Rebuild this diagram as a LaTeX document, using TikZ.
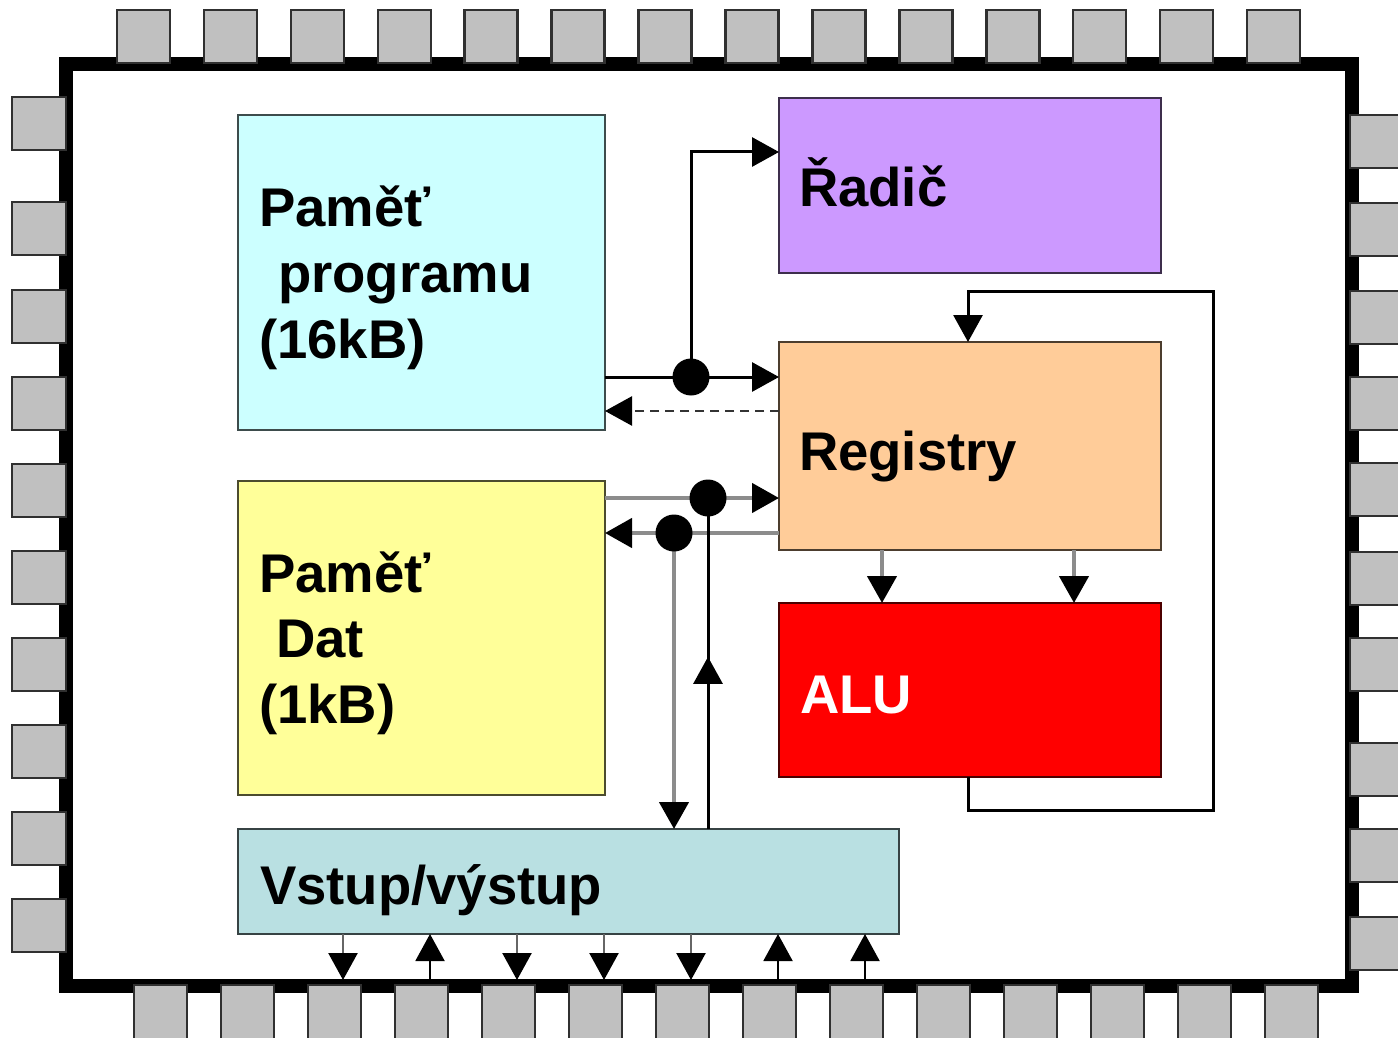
\documentclass[tikz,border=0pt]{standalone}
\usepackage{fontspec}
\setmainfont{Liberation Sans}
\usetikzlibrary{arrows.meta,decorations.markings}
\definecolor{progc}{HTML}{CCFFFF}
\definecolor{radicc}{HTML}{CC99FF}
\definecolor{regc}{HTML}{FFCC99}
\definecolor{datc}{HTML}{FFFF99}
\definecolor{aluc}{HTML}{FF0000}
\definecolor{ioc}{HTML}{B9E0E2}
\definecolor{pinfill}{HTML}{C0C0C0}
\definecolor{pinedge}{HTML}{303030}
\definecolor{linegray}{HTML}{8C8C8C}
\definecolor{stemgray}{HTML}{666666}
\tikzset{ahead/.tip={Triangle[length=27pt,width=29pt,color=black,fill=black]}}
\begin{document}
\begin{tikzpicture}[x=1pt,y=-1pt,
  box/.style={rectangle,draw=#1!30!black,fill=#1,line width=2.5pt,inner sep=0pt,outer sep=0pt,anchor=north west},
  pin/.style={draw=pinedge,fill=pinfill,line width=2.5pt},
  lbl/.style={anchor=base west,inner sep=0pt,outer sep=0pt,font=\fontsize{54.5}{60}\selectfont\bfseries},
  blk/.style={line width=3pt,draw=black},
  gry/.style={line width=4.5pt,draw=linegray},
  stem/.style={line width=2.5pt,draw=stemgray},
  thinblk/.style={line width=2pt,draw=black},
  dashln/.style={line width=2.5pt,draw=black!80,dash pattern=on 9pt off 6pt},
  midup/.style={postaction={decorate},decoration={markings,mark=at position 0.52 with {\arrow{ahead}}}},
]
\useasboundingbox (0,0) rectangle (1398,1038);
% chip body
\filldraw[fill=white,draw=black,line width=14pt] (66,64) rectangle (1352,986);
% pins
\foreach \i in {0,...,13}{
  \draw[pin] ({117+86.93*\i},10) rectangle ++(53,53);
  \draw[pin] ({134+87*\i},985) rectangle ++(53,65);
}
\foreach \y in {97,202,290,377,464,551,638,725,812,899}{
  \draw[pin] (12,\y) rectangle ++(54,53);
}
\foreach \y in {115,203,291,377,463,552,638,743,829,917}{
  \draw[pin] (1350,\y) rectangle ++(65,53);
}
% blocks
\node[box=progc,minimum width=367pt,minimum height=315pt] (prog) at (238,115) {};
\node[box=radicc,minimum width=382pt,minimum height=175pt] (radic) at (779,98) {};
\node[box=regc,minimum width=382pt,minimum height=208pt] (reg) at (779,342) {};
\node[box=datc,minimum width=367pt,minimum height=314pt] (dat) at (238,481) {};
\node[box=aluc,minimum width=382pt,minimum height=174pt] (alu) at (779,603) {};
\node[box=ioc,minimum width=661pt,minimum height=105pt] (io) at (238,829) {};
% labels
\node[lbl] (prog1) at (259,226) {Paměť};
\node[lbl] (prog2) at (278,292) {programu};
\node[lbl] (prog3) at (259,358) {(16kB)};
\node[lbl] (radicl) at (799,206) {Řadič};
\node[lbl] (regl) at (799,470) {Registry};
\node[lbl] (dat1) at (259,592) {Paměť};
\node[lbl] (dat2) at (276,657) {Dat};
\node[lbl] (dat3) at (259,723) {(1kB)};
\node[lbl,text=white] (alul) at (800,713) {ALU};
\node[lbl] (iol) at (260,904) {Vstup/výstup};
% junctions
\coordinate (j1) at (691,377);
\coordinate (j2) at (708,498);
\coordinate (j3) at (674,533);
% connectors
\draw[blk,-ahead] (prog.east |- j1) -- (reg.west |- j1);
\draw[blk,-ahead] (j1) |- (radic.west |- 0,152);
\draw[dashln,-ahead] (reg.west |- 0,411) -- (prog.east |- 0,411);
\draw[gry,-ahead] (dat.east |- j2) -- (reg.west |- j2);
\draw[gry,-ahead] (reg.west |- j3) -- (dat.east |- j3);
\draw[gry,-ahead] (j3) -- (io.north -| j3);
\draw[blk,midup] (io.north -| j2) -- (j2);
\draw[gry,-ahead] (reg.south -| 882,0) -- (alu.north -| 882,0);
\draw[gry,-ahead] (reg.south -| 1074,0) -- (alu.north -| 1074,0);
\draw[blk,-ahead] (alu.south -| 968,0) |- (1213,810) |- (968,291) -- (reg.north -| 968,0);
% I/O pins connections
\foreach \x in {343,517,604,691}{
  \coordinate (pd\x) at (\x,980);
  \draw[stem,-ahead] (io.south -| pd\x) -- (pd\x);
}
\foreach \x in {430,778,865}{
  \coordinate (pu\x) at (\x,980);
  \draw[thinblk,-ahead] (pu\x) -- (io.south -| pu\x);
}
% junction dots
\foreach \j in {j1,j2,j3}{\fill[black] (\j) circle (18.5pt);}
\end{tikzpicture}
\end{document}
